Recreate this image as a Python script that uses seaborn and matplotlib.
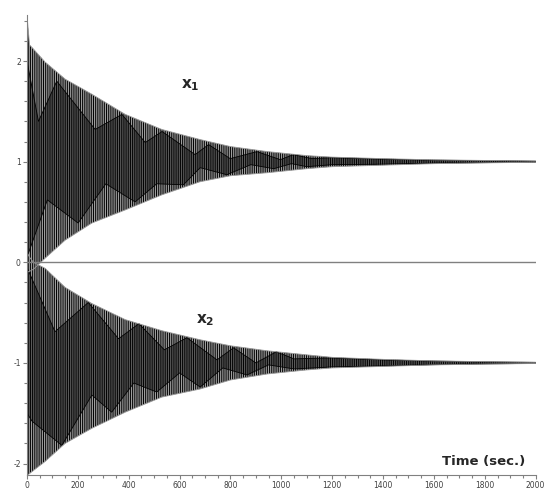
import matplotlib
matplotlib.use('Agg')
import matplotlib.pyplot as plt
import seaborn as sns
from matplotlib.ticker import MultipleLocator

# ------------------------------
# values (time in sec.)
# ------------------------------
# outer envelopes of the two responses
t_env = [0, 10, 25, 71, 150, 255, 386, 530, 680, 800, 945, 1100, 1200, 1400, 1600, 1800, 2000]
x1_hi = [2.45, 2.16, 2.12, 1.99, 1.82, 1.67, 1.47, 1.32, 1.22, 1.15, 1.10, 1.06, 1.045, 1.03, 1.018, 1.012, 1.006]
x1_lo = [-0.10, -0.09, -0.07, 0.04, 0.22, 0.39, 0.52, 0.67, 0.80, 0.86, 0.89, 0.93, 0.95, 0.965, 0.98, 0.988, 0.994]
x2_hi = [0.10, 0.05, 0.0, -0.06, -0.25, -0.41, -0.57, -0.68, -0.77, -0.83, -0.88, -0.92, -0.945, -0.965, -0.98, -0.988, -0.994]
x2_lo = [-2.12, -2.10, -2.07, -1.98, -1.80, -1.65, -1.49, -1.34, -1.26, -1.17, -1.11, -1.07, -1.05, -1.035, -1.02, -1.012, -1.006]

# darker beat pattern (diamonds) inside each band
x1_dark_top_t = [0, 45, 117, 268, 373, 465, 531, 661, 714, 799, 904, 996, 1048, 1120, 1200, 1400, 1600, 1800, 2000]
x1_dark_top = [2.0, 1.40, 1.80, 1.32, 1.47, 1.19, 1.30, 1.07, 1.17, 1.03, 1.10, 1.02, 1.07, 1.03, 1.04, 1.025, 1.015, 1.01, 1.005]
x1_dark_bot_t = [0, 80, 201, 310, 425, 510, 615, 681, 786, 880, 970, 1040, 1100, 1200, 1400, 1600, 1800, 2000]
x1_dark_bot = [0.05, 0.62, 0.39, 0.78, 0.60, 0.78, 0.77, 0.94, 0.87, 0.97, 0.93, 0.98, 0.95, 0.97, 0.975, 0.985, 0.99, 0.995]

x2_dark_top_t = [0, 110, 241, 360, 440, 540, 629, 747, 812, 900, 980, 1050, 1200, 1400, 1600, 1800, 2000]
x2_dark_top = [-0.05, -0.69, -0.40, -0.76, -0.61, -0.87, -0.75, -0.97, -0.85, -1.0, -0.89, -0.96, -0.95, -0.97, -0.982, -0.99, -0.995]
x2_dark_bot_t = [0, 20, 137, 255, 333, 420, 510, 600, 681, 770, 865, 950, 1050, 1200, 1400, 1600, 1800, 2000]
x2_dark_bot = [-1.50, -1.58, -1.82, -1.32, -1.49, -1.20, -1.29, -1.10, -1.24, -1.05, -1.12, -1.02, -1.06, -1.04, -1.03, -1.018, -1.01, -1.005]

x_ticks = [0, 200, 400, 600, 800, 1000, 1200, 1400, 1600, 1800, 2000]
y_ticks = [-2, -1, 0, 1, 2]

# ------------------------------
# figure
# ------------------------------
sns.set_style('white')
plt.rcParams['font.family'] = ['DejaVu Sans']
plt.rcParams['axes.unicode_minus'] = False
plt.rcParams['hatch.linewidth'] = 0.7
plt.rcParams['hatch.color'] = 'black'

fig = plt.figure(figsize=(5.49, 4.92), dpi=100)
ax = fig.add_axes([0.0492, 0.0346, 0.9265, 0.935])

for lo, hi in [(x1_lo, x1_hi), (x2_lo, x2_hi)]:
    ax.fill_between(t_env, lo, hi, facecolor='#b4b4b4', edgecolor='black',
                    hatch='|' * 9, linewidth=0)
    sns.lineplot(x=t_env, y=hi, ax=ax, color='#9a9a9a', lw=0.6)
    sns.lineplot(x=t_env, y=lo, ax=ax, color='#9a9a9a', lw=0.6)

for tt, top, bt, bot in [(x1_dark_top_t, x1_dark_top, x1_dark_bot_t, x1_dark_bot),
                         (x2_dark_top_t, x2_dark_top, x2_dark_bot_t, x2_dark_bot)]:
    ax.fill(tt + bt[::-1], top + bot[::-1], facecolor='#666666', edgecolor='black',
            hatch='|' * 9, linewidth=0.6)

ax.axhline(0, color='#808080', lw=1.0)

ax.set_xlim(0, 2000)
ax.set_ylim(-2.114, 2.458)
ax.set_xticks(x_ticks)
ax.set_yticks(y_ticks)
ax.xaxis.set_minor_locator(MultipleLocator(50))
ax.yaxis.set_minor_locator(MultipleLocator(0.2))
ax.tick_params(which='both', direction='out', colors='#808080', labelcolor='#404040',
               labelsize=5.5, width=0.8, bottom=True, left=True)
ax.tick_params(which='major', length=3, pad=1.5)
ax.tick_params(which='minor', length=2)
for side in ['top', 'right']:
    ax.spines[side].set_visible(False)
for side in ['left', 'bottom']:
    ax.spines[side].set_color('#808080')
    ax.spines[side].set_linewidth(0.8)

ax.text(642, 1.76, r'$\mathbf{x_1}$', fontsize=11, ha='center', va='center')
ax.text(700, -0.58, r'$\mathbf{x_2}$', fontsize=11, ha='center', va='center')
ax.text(1961, -1.98, 'Time (sec.)', fontsize=9.5, fontweight='bold', ha='right', va='center')

fig.savefig('out.png', dpi=100)
